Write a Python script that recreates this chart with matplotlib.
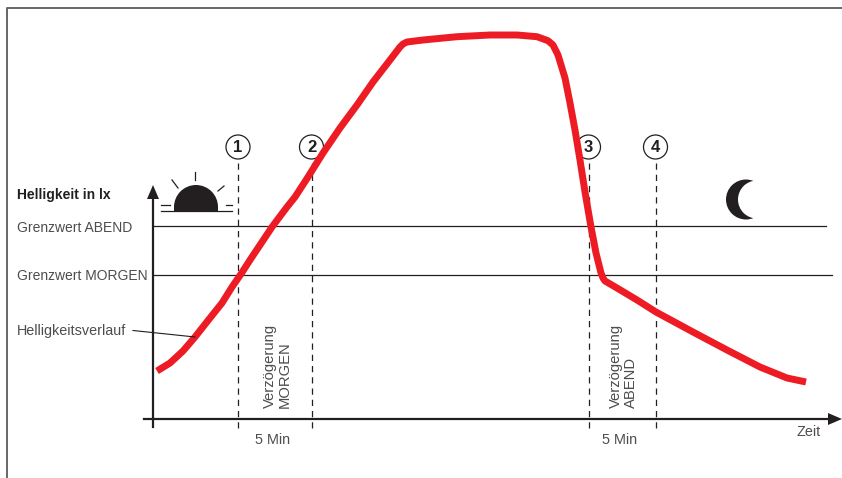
import matplotlib
matplotlib.use('Agg')
import matplotlib.pyplot as plt
from matplotlib.patches import Circle, Wedge, Rectangle, Polygon

# origin is where the two axes cross, units are image pixels
curve_x = [4, 17, 30, 42, 57, 69, 79, 88, 97, 119, 134, 142, 155, 170, 187, 204, 220, 237, 247, 250, 254,
           270, 304, 337, 364, 384, 395, 400, 405, 412, 417, 422, 427, 432, 438, 443, 448, 450, 452, 464,
           484, 503, 540, 574, 607, 634, 653]
curve_y = [48, 56, 68, 82, 101, 116, 132, 145, 159, 192, 212, 222, 242, 266, 291, 314, 337, 359, 372, 375, 377,
           379, 382.3, 384, 384, 382.3, 378.3, 374, 364, 341, 316, 289, 259, 227, 192, 166, 146, 141, 138, 131,
           119, 107, 87, 69, 52, 41, 37]
threshold_y = [193, 144]
threshold_end = [673, 679]
threshold_names = ['Grenzwert ABEND', 'Grenzwert MORGEN']
event_x = [85, 158.5, 435.5, 502.5]
event_labels = ['1', '2', '3', '4']
delay_labels = ['Verzögerung\nMORGEN', 'Verzögerung\nABEND']
delay_x = [124.5, 470]

plt.rcParams['font.family'] = ['Liberation Sans', 'DejaVu Sans']
dark = '#231f20'
grey = '#4d4d4f'
fs = 10.4
fs_left = 10

fig = plt.figure(figsize=(8.42, 4.78), dpi=100)
ax = fig.add_axes([0, 0, 1, 1])
ax.set_xlim(-153, 689)
ax.set_ylim(-59, 419)
ax.axis('off')

# outer frame
ax.plot([-146.5, -146.5, 689], [-59, 410.7, 410.7], color='#666666', lw=1.4, zorder=1)

# thresholds
for y, end, name in zip(threshold_y, threshold_end, threshold_names):
    ax.plot([0, end], [y, y], color=dark, lw=0.9, zorder=2)
    ax.text(-136, y - 1.5, name, color=grey, fontsize=fs_left, va='center', ha='left')

# event markers
for x, label in zip(event_x, event_labels):
    ax.plot([x, x], [-9, 259], color=dark, lw=0.9, dashes=(5, 4), zorder=2)
    ax.add_patch(Circle((x, 272), 12, fc='white', ec=dark, lw=0.9, zorder=3))
    ax.text(x, 272, label, color=dark, fontsize=12, fontweight='bold', ha='center', va='center', zorder=6)

# axes
ax.plot([0, 0], [-8, 222], color=dark, lw=1.6, zorder=4)
ax.plot([-9, 676], [0, 0], color=dark, lw=1.6, zorder=4)
ax.add_patch(Polygon([[-6, 220], [6, 220], [0, 234]], fc=dark, ec='none', zorder=4))
ax.add_patch(Polygon([[675, 6], [675, -6], [689, 0]], fc=dark, ec='none', zorder=4))

ax.plot(curve_x, curve_y, color='#ed1c24', lw=5, solid_joinstyle='round', solid_capstyle='butt', zorder=5)

# sun
ax.add_patch(Wedge((43, 212), 22, 0, 180, fc=dark, ec='none', zorder=3))
ax.add_patch(Rectangle((21, 208), 44, 5, fc=dark, ec='none', zorder=3))
ax.plot([8, 79], [208, 208], color=dark, lw=0.9)
ax.plot([8, 17], [214, 214], color=dark, lw=0.9)
ax.plot([73, 79], [214, 214], color=dark, lw=0.9)
ax.plot([42, 42], [239, 247], color=dark, lw=0.9)
ax.plot([19, 25], [239, 231], color=dark, lw=0.9)
ax.plot([71, 65], [233, 228], color=dark, lw=0.9)

# moon
ax.add_patch(Circle((593, 219.5), 20, fc=dark, ec='none', zorder=3))
ax.add_patch(Circle((604, 219.5), 19, fc='white', ec='none', zorder=3))

# text
ax.text(-136, 224.5, 'Helligkeit in lx', color=dark, fontsize=fs_left, fontweight='bold', va='center', ha='left')
ax.text(-136, 88, 'Helligkeitsverlauf', color=grey, fontsize=fs, va='center', ha='left')
ax.plot([-20, 42], [88.5, 82], color=dark, lw=0.8, zorder=6)
for x, label in zip(delay_x, delay_labels):
    ax.text(x, 11, label, color=grey, fontsize=10.6, rotation=90, ha='center', va='bottom', ma='left', linespacing=1.1)
ax.text(120, -21, '5 Min', color=grey, fontsize=fs, ha='center', va='center')
ax.text(467, -21, '5 Min', color=grey, fontsize=fs, ha='center', va='center')
ax.text(656, -13, 'Zeit', color=grey, fontsize=fs, ha='center', va='center')

fig.savefig('out.png', dpi=100)
